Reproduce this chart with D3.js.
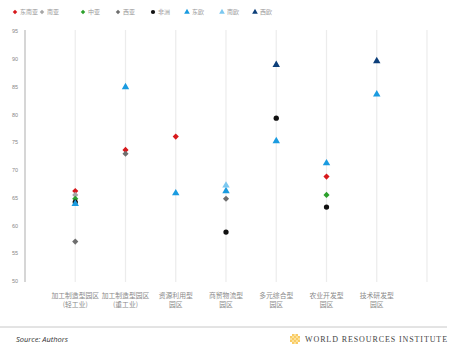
<!DOCTYPE html>
<html><head><meta charset="utf-8">
<script src="https://cdn.jsdelivr.net/npm/d3@7"></script>
<style>body{margin:0;background:#fff;}svg{display:block;font-family:"Noto Sans CJK SC","Noto Sans",sans-serif;}</style>
</head><body><svg id="c" width="455" height="350"></svg>
<script>
const categories = [["加工制造型园区","(轻工业)"],["加工制造型园区","(重工业)"],["资源利用型","园区"],["商贸物流型","园区"],["多元综合型","园区"],["农业开发型","园区"],["技术研发型","园区"]];
const seriesNames = ["东南亚","南亚","中亚","西亚","非洲","东欧","南欧","西欧"];
const seriesColors = ["#d7191c","#a6a6a6","#2ca02c","#6e6e6e","#111111","#1a9be0","#7cc8f0","#0d3f7a"];
const seriesShapes = ["diamond","diamond","diamond","diamond","circle","triangle","triangle","triangle"];
// values per series, one per category (null = no point)
const sEastAsia = [66.2, 73.6, 76.0, null, null, 68.8, null];
const sSouthAsia = [65.5, null, null, null, null, null, null];
const sCentralAsia = [64.8, null, null, null, null, 65.5, null];
const sWestAsia = [57.1, 72.9, null, 64.8, null, null, null];
const sAfrica = [64.2, null, null, 58.8, 79.3, 63.3, null];
const sEastEurope = [63.9, 84.9, 65.8, 66.2, 75.2, 71.2, 83.6];
const sSouthEurope = [null, null, null, 67.2, null, null, null];
const sWestEurope = [null, null, null, null, 88.9, null, 89.6];
const seriesValues = [sEastAsia, sSouthAsia, sCentralAsia, sWestAsia, sAfrica, sEastEurope, sSouthEurope, sWestEurope];
const yTicks = [50,55,60,65,70,75,80,85,90,95];

const svg = d3.select("#c");
const x = d3.scaleLinear().domain([0, 8]).range([25, 427]);
const y = d3.scaleLinear().domain([50, 95]).range([281, 31]);

// gridlines
svg.append("g").selectAll("line").data(d3.range(1, 9)).join("line")
  .attr("x1", d => x(d)).attr("x2", d => x(d)).attr("y1", 30).attr("y2", 282)
  .attr("stroke", "#ececec").attr("stroke-width", 1.2);

// y axis
const ya = svg.append("g").attr("transform", "translate(25,0)")
  .call(d3.axisLeft(y).tickValues(yTicks).tickSize(0).tickPadding(7));
ya.select(".domain").attr("stroke", "#c8c8c8").attr("stroke-width", 1.5).attr("d", "M0,30V282");
ya.selectAll("text").attr("fill", "#888").style("font-size", "5.5px").style("font-family", "Liberation Sans, sans-serif");

// x labels
const xl = svg.append("g");
categories.forEach((c, i) => {
  const t = xl.append("text").attr("x", x(i + 1)).attr("y", 298).attr("text-anchor", "middle")
    .attr("fill", "#8a8a8a").style("font-size", "6.8px");
  t.append("tspan").attr("x", x(i + 1)).text(c[0]);
  t.append("tspan").attr("x", x(i + 1)).attr("dy", 8.5).text(c[1]);
});

const sym = {diamond: d3.symbolSquare, circle: d3.symbolCircle, triangle: d3.symbolTriangle};
const rot = {diamond: 45, circle: 0, triangle: 0};
const sizes = {diamond: 19, circle: 22, triangle: 24};
// points
seriesValues.forEach((vals, si) => {
  const sh = seriesShapes[si];
  const pts = vals.map((v, ci) => ({v, ci})).filter(d => d.v !== null);
  svg.append("g").selectAll("path").data(pts).join("path")
    .attr("transform", d => `translate(${x(d.ci + 1)},${y(d.v)}) rotate(${rot[sh]})`)
    .attr("d", d3.symbol().type(sym[sh]).size(sizes[sh]))
    .attr("fill", seriesColors[si]);
});

// legend
const legX = [15, 42, 83, 118, 153, 187, 222, 255];
const lg = svg.append("g");
seriesNames.forEach((n, i) => {
  const sh = seriesShapes[i];
  lg.append("path").attr("transform", `translate(${legX[i]},12) rotate(${rot[sh]})`)
    .attr("d", d3.symbol().type(sym[sh]).size(sh === "diamond" ? 10 : 14)).attr("fill", seriesColors[i]);
  lg.append("text").attr("x", legX[i] + 5).attr("y", 14).attr("fill", "#999")
    .style("font-size", "6px").text(n);
});

// footer
svg.append("line").attr("x1", 0).attr("x2", 447).attr("y1", 327).attr("y2", 327)
  .attr("stroke", "#c8c8c8").attr("stroke-width", 1);
svg.append("text").attr("x", 16).attr("y", 342).attr("fill", "#333")
  .style("font-size", "7.5px").style("font-style", "italic").style("font-family", "Open Sans, sans-serif")
  .text("Source: Authors");
// logo
const logo = svg.append("g").attr("transform", "translate(295,339)");
const cells = [];
for (let r = -2; r <= 2; r++) for (let c = -2; c <= 2; c++) if (Math.abs(r) + Math.abs(c) <= 3) cells.push([r, c]);
logo.selectAll("circle").data(cells).join("circle")
  .attr("cx", d => d[1] * 2).attr("cy", d => d[0] * 2).attr("r", 0.9)
  .attr("fill", d => (Math.abs(d[0]) + Math.abs(d[1])) % 2 ? "#f6b21b" : "#fbd46a");
svg.append("text").attr("x", 305).attr("y", 342).attr("fill", "#444")
  .style("font-size", "8px").style("font-family", "Liberation Serif, serif").style("letter-spacing", "0.9px")
  .text("WORLD RESOURCES INSTITUTE");
</script></body></html>
